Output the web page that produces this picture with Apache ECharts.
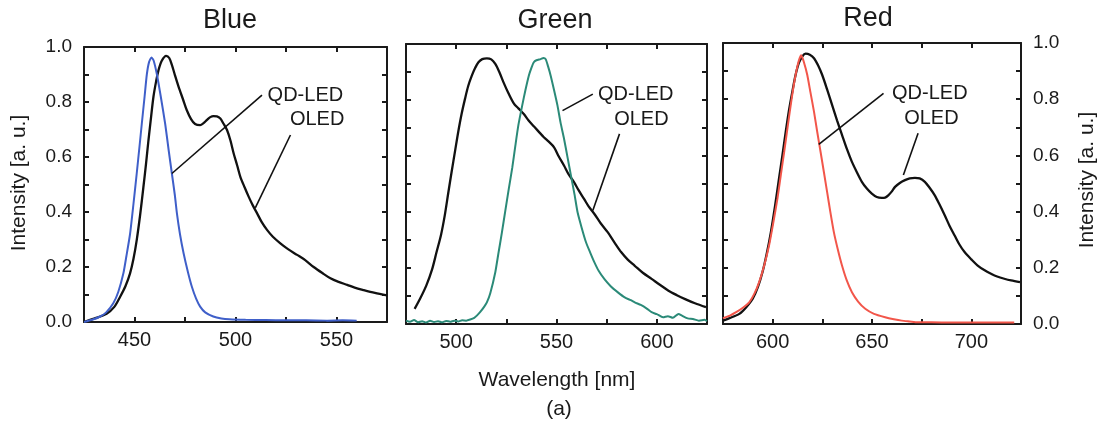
<!DOCTYPE html>
<html>
<head>
<meta charset="utf-8">
<script src="https://cdn.jsdelivr.net/npm/echarts@6/dist/echarts.min.js"></script>
<style>
  html, body { margin: 0; padding: 0; background: #ffffff; }
  #chart { width: 1103px; height: 437px; }
</style>
</head>
<body>
<div id="chart"></div>
<script>
// Emission spectra (normalised intensity vs wavelength in nm)

// Blue panel
const blueQdX = [425, 429, 433, 436, 439.5, 442, 444.5, 446, 447.8, 449.5, 451.1, 452.5, 453.6, 455, 456.1, 457.2, 458.4, 459.5, 461.1, 463, 465.2, 467, 468.5, 470, 471, 472.5, 474.3, 476.5, 478.4, 480.5, 482.5, 485, 489, 493, 497, 505, 515, 525, 535, 545, 553, 560];
const blueQdY = [0.0, 0.008, 0.02, 0.035, 0.068, 0.11, 0.177, 0.24, 0.32, 0.43, 0.54, 0.64, 0.72, 0.82, 0.90, 0.945, 0.962, 0.95, 0.90, 0.82, 0.72, 0.62, 0.54, 0.46, 0.395, 0.32, 0.25, 0.18, 0.128, 0.085, 0.056, 0.035, 0.02, 0.013, 0.01, 0.008, 0.007, 0.006, 0.006, 0.005, 0.006, 0.005];
const blueOledX = [425, 430, 436.2, 440, 442.9, 445.5, 447.8, 449.5, 451.1, 452.8, 454.4, 455.7, 456.9, 458.2, 459.4, 460.7, 461.9, 463.5, 465.7, 467.2, 468.5, 470, 471.8, 474, 475.9, 478, 480, 482.5, 484, 485.9, 487.5, 489.1, 490.8, 492.5, 494, 495.8, 497.5, 499.1, 500.8, 502.4, 504.5, 506.5, 508.5, 510.7, 513, 515.6, 518.5, 522.2, 526, 530.5, 534.5, 538.7, 543, 547, 551, 555.3, 559, 563.5, 569, 575];
const blueOledY = [0.0, 0.012, 0.03, 0.055, 0.092, 0.13, 0.177, 0.23, 0.298, 0.39, 0.49, 0.575, 0.66, 0.745, 0.82, 0.875, 0.916, 0.95, 0.968, 0.96, 0.935, 0.898, 0.856, 0.81, 0.77, 0.738, 0.72, 0.716, 0.722, 0.735, 0.745, 0.749, 0.748, 0.74, 0.722, 0.698, 0.66, 0.613, 0.57, 0.528, 0.49, 0.456, 0.425, 0.395, 0.363, 0.335, 0.31, 0.286, 0.265, 0.244, 0.225, 0.2, 0.178, 0.159, 0.146, 0.135, 0.125, 0.116, 0.106, 0.097];

// Green panel
const greenQdX = [475, 477, 479, 481, 483, 485, 487, 489, 491, 493, 495, 497, 499, 501, 503, 505, 507, 509, 510.3, 512, 514, 515.3, 517, 519.5, 521, 522.8, 524.5, 526.2, 528, 529.5, 531, 532.9, 534.5, 536.2, 537.5, 538.7, 540, 542.1, 543.5, 544.6, 545.8, 547.1, 548.8, 550.5, 552, 553.8, 555.5, 557.2, 559, 560.5, 562.5, 564.7, 566.8, 568.9, 571, 573.9, 577, 580.6, 584, 587, 589, 592, 595, 597.4, 600, 603.1, 605.5, 608, 610.8, 612.5, 615.4, 618, 621, 623.8, 625];
const greenQdY = [0.012, 0.008, 0.014, 0.006, 0.01, 0.005, 0.012, 0.007, 0.01, 0.006, 0.011, 0.008, 0.012, 0.009, 0.013, 0.012, 0.016, 0.022, 0.03, 0.043, 0.062, 0.077, 0.11, 0.185, 0.25, 0.327, 0.405, 0.482, 0.56, 0.637, 0.71, 0.78, 0.835, 0.887, 0.915, 0.935, 0.942, 0.946, 0.95, 0.946, 0.92, 0.887, 0.835, 0.78, 0.72, 0.66, 0.595, 0.53, 0.462, 0.399, 0.345, 0.292, 0.255, 0.22, 0.19, 0.16, 0.135, 0.113, 0.095, 0.085, 0.077, 0.068, 0.055, 0.042, 0.035, 0.024, 0.028, 0.022, 0.036, 0.03, 0.02, 0.018, 0.012, 0.015, 0.01];
const greenOledX = [479.3, 482, 485.1, 488, 490.2, 492.5, 494.3, 496, 497.7, 499.5, 501, 502.7, 504.4, 506, 507.8, 509.5, 511.1, 513, 515.3, 517.5, 519.5, 521.5, 523.6, 526, 528.7, 531, 533.7, 536, 538.7, 541, 543.7, 546, 548.8, 551, 553.8, 556, 558.8, 561, 563.8, 566, 568.9, 572, 575.6, 579, 582.3, 585.5, 589, 593, 597.4, 601.5, 605.8, 610, 614.1, 619, 624.5];
const greenOledY = [0.054, 0.09, 0.137, 0.195, 0.256, 0.32, 0.387, 0.465, 0.542, 0.62, 0.685, 0.75, 0.804, 0.85, 0.887, 0.915, 0.935, 0.946, 0.949, 0.945, 0.929, 0.9, 0.863, 0.825, 0.788, 0.77, 0.75, 0.728, 0.706, 0.688, 0.667, 0.652, 0.631, 0.6, 0.565, 0.535, 0.506, 0.478, 0.446, 0.42, 0.393, 0.36, 0.327, 0.29, 0.256, 0.23, 0.208, 0.183, 0.161, 0.14, 0.119, 0.103, 0.089, 0.074, 0.06];

// Red panel
const redQdX = [575, 576.2, 578.5, 581.6, 585, 588.2, 590.8, 593.2, 595.8, 598.2, 600.3, 602.4, 604.1, 605.8, 607.5, 609.1, 610.5, 611.9, 613.3, 614.4, 615.8, 617.4, 619, 620.8, 622.4, 624.1, 625.8, 627.4, 629, 630.8, 632.8, 634.9, 637.3, 639.9, 643, 646.6, 651, 656.6, 661, 665, 669, 673, 680, 690, 700, 710, 721.6];
const redQdY = [0.02, 0.024, 0.03, 0.042, 0.058, 0.077, 0.108, 0.149, 0.21, 0.28, 0.36, 0.446, 0.53, 0.613, 0.7, 0.78, 0.845, 0.899, 0.94, 0.956, 0.93, 0.887, 0.825, 0.756, 0.685, 0.613, 0.54, 0.47, 0.4, 0.327, 0.265, 0.208, 0.155, 0.113, 0.08, 0.054, 0.036, 0.024, 0.017, 0.012, 0.009, 0.006, 0.006, 0.005, 0.005, 0.005, 0.005];
const redOledX = [575, 578, 583.2, 586.5, 589.9, 592.5, 594.9, 597, 599.1, 601.2, 603.2, 604.9, 606.6, 608.2, 609.9, 611.5, 613.2, 614.9, 616.6, 618.7, 620.8, 622.9, 624.9, 627.4, 629.9, 632.4, 634.9, 637.4, 639.9, 642.4, 644.9, 647.4, 649.9, 652.4, 654.9, 656.6, 658.2, 660, 661.6, 664, 666.6, 669, 671.6, 674, 676.6, 679, 681.6, 684, 686.6, 689, 691.6, 694, 696.6, 700, 703.2, 706.5, 709.9, 713, 716.6, 720, 724.5];
const redOledY = [0.012, 0.02, 0.036, 0.058, 0.089, 0.13, 0.185, 0.25, 0.327, 0.42, 0.518, 0.6, 0.685, 0.76, 0.827, 0.885, 0.929, 0.952, 0.962, 0.958, 0.946, 0.92, 0.887, 0.835, 0.78, 0.725, 0.673, 0.622, 0.577, 0.54, 0.506, 0.482, 0.464, 0.452, 0.449, 0.45, 0.458, 0.472, 0.488, 0.502, 0.512, 0.518, 0.52, 0.518, 0.506, 0.485, 0.458, 0.425, 0.387, 0.35, 0.315, 0.283, 0.256, 0.23, 0.208, 0.192, 0.179, 0.169, 0.161, 0.155, 0.149];

// Panel titles and axis ranges
const panelNames = ['Blue', 'Green', 'Red'];
const xRanges = [[425, 575], [475, 625], [575, 725]];
const curveNames = ['QD-LED', 'OLED'];

const FONT = '"Liberation Sans", Arial, Helvetica, sans-serif';
const INK = '#1a1a1a';
const qdColors = ['#3f5fc9', '#2b8a78', '#f2564a'];

const grids = [
  { left: 84, top: 47, width: 303, height: 275 },
  { left: 406, top: 44, width: 301, height: 280 },
  { left: 723, top: 43, width: 298, height: 281 }
];

// Leader lines and label anchors, in each panel's data coordinates
const callouts = [
  { qdLine: [[513.1, 0.825], [468.5, 0.54]], oledLine: [[527.2, 0.68], [509.8, 0.415]], qdText: [534.6, 0.825], oledText: [540.4, 0.737] },
  { qdLine: [[568.1, 0.821], [553, 0.762]], oledLine: [[581.4, 0.679], [568.1, 0.405]], qdText: [589.5, 0.821], oledText: [592.3, 0.732] },
  { qdLine: [[655.8, 0.821], [623.2, 0.639]], oledLine: [[673.2, 0.679], [665.8, 0.53]], qdText: [679.1, 0.821], oledText: [679.9, 0.732] }
];

const pairs = (xs, ys) => xs.map((x, i) => [x, ys[i]]);

const axisLine = { show: true, onZero: false, lineStyle: { color: INK, width: 2 } };
const axisTick = { show: true, inside: true, length: 5, lineStyle: { color: INK, width: 2 } };

const xAxis = [];
const yAxis = [];
grids.forEach((g, i) => {
  const [mn, mx] = xRanges[i];
  xAxis.push({
    type: 'value', gridIndex: i, position: 'bottom', min: mn, max: mx, interval: 25,
    axisLine, axisTick, splitLine: { show: false },
    axisLabel: {
      show: true, margin: 8, color: INK, fontFamily: FONT, fontSize: 20,
      formatter: v => (Math.round(v) % 50 === 0 ? String(Math.round(v)) : '')
    }
  });
  xAxis.push({
    type: 'value', gridIndex: i, position: 'top', min: mn, max: mx, interval: 25,
    axisLine, axisTick, splitLine: { show: false }, axisLabel: { show: false }
  });
  const yLabel = {
    margin: 12, color: INK, fontFamily: FONT, fontSize: 19,
    formatter: v => (Math.round(v * 10) % 2 === 0 ? v.toFixed(1) : '')
  };
  yAxis.push({
    type: 'value', gridIndex: i, position: 'left', min: 0, max: 1, interval: 0.1,
    axisLine, axisTick, splitLine: { show: false },
    axisLabel: Object.assign({ show: i === 0 }, yLabel)
  });
  yAxis.push({
    type: 'value', gridIndex: i, position: 'right', min: 0, max: 1, interval: 0.1,
    axisLine, axisTick, splitLine: { show: false },
    axisLabel: Object.assign({ show: i === 2 }, yLabel)
  });
});

const spectra = [
  [blueQdX, blueQdY, blueOledX, blueOledY],
  [greenQdX, greenQdY, greenOledX, greenOledY],
  [redQdX, redQdY, redOledX, redOledY]
];

const series = [];
spectra.forEach((s, i) => {
  const common = { type: 'line', xAxisIndex: 2 * i, yAxisIndex: 2 * i, showSymbol: false, silent: true, animation: false };
  series.push(Object.assign({}, common, {
    name: panelNames[i] + ' ' + curveNames[1], data: pairs(s[2], s[3]), smooth: 0.3,
    lineStyle: { color: '#111111', width: 2.3 }, z: 3
  }));
  series.push(Object.assign({}, common, {
    name: panelNames[i] + ' ' + curveNames[0], data: pairs(s[0], s[1]), smooth: 0.2,
    lineStyle: { color: qdColors[i], width: 2 }, z: 4
  }));
  const c = callouts[i];
  [c.qdLine, c.oledLine].forEach(seg => {
    series.push(Object.assign({}, common, {
      data: seg, lineStyle: { color: '#111111', width: 1.6 }, z: 5
    }));
  });
  series.push({
    type: 'scatter', xAxisIndex: 2 * i, yAxisIndex: 2 * i, symbolSize: 0, silent: true, animation: false,
    itemStyle: { opacity: 1 },
    data: [c.qdText.concat([curveNames[0]]), c.oledText.concat([curveNames[1]])],
    label: {
      show: true, position: 'inside', formatter: p => p.value[2], opacity: 1,
      color: INK, fontFamily: FONT, fontSize: 20, textBorderWidth: 0
    }
  });
});

const textStyle = (t, x, y, size, rot) => ({
  type: 'text', x, y, rotation: rot || 0,
  style: { text: t, fill: INK, font: size + 'px ' + FONT, textAlign: 'center', textVerticalAlign: 'middle' }
});

const graphic = [
  textStyle(panelNames[0], 230, 21, 27),
  textStyle(panelNames[1], 555, 21, 27),
  textStyle(panelNames[2], 868, 19, 27),
  textStyle('Intensity [a. u.]', 19, 183, 21, Math.PI / 2),
  textStyle('Intensity [a. u.]', 1087, 180, 21, Math.PI / 2),
  textStyle('Wavelength [nm]', 557, 380, 21),
  textStyle('(a)', 559, 409, 21)
];

const chart = echarts.init(document.getElementById('chart'), null, { renderer: 'canvas' });
chart.setOption({
  backgroundColor: '#ffffff',
  animation: false,
  grid: grids,
  xAxis,
  yAxis,
  series,
  graphic
});
</script>
</body>
</html>
